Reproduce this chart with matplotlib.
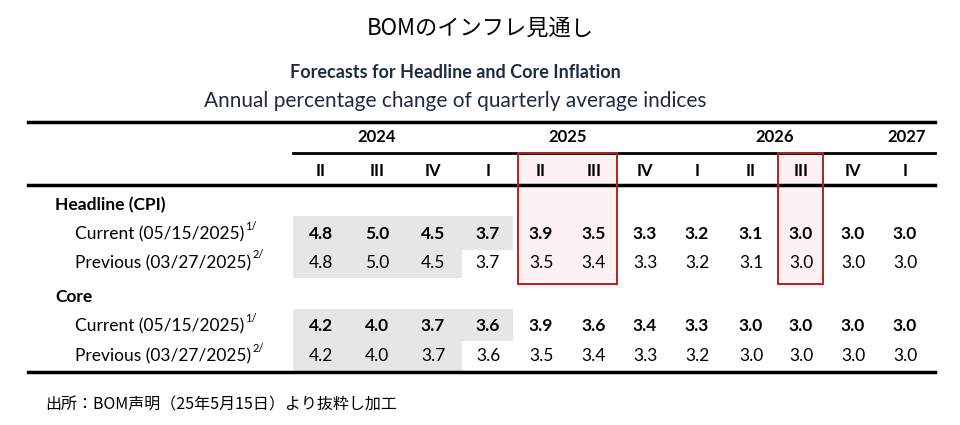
import matplotlib
matplotlib.use("Agg")
import matplotlib.pyplot as plt
from matplotlib.patches import Rectangle

years = ["2024", "2025", "2026", "2027"]
year_x = [377, 568, 775, 907]
quarters = ["II", "III", "IV", "I", "II", "III", "IV", "I", "II", "III", "IV", "I"]
col_x = [321, 377, 433, 488, 541, 594, 645, 697, 751, 801, 853, 905]
headline_current = [4.8, 5.0, 4.5, 3.7, 3.9, 3.5, 3.3, 3.2, 3.1, 3.0, 3.0, 3.0]
headline_previous = [4.8, 5.0, 4.5, 3.7, 3.5, 3.4, 3.3, 3.2, 3.1, 3.0, 3.0, 3.0]
core_current = [4.2, 4.0, 3.7, 3.6, 3.9, 3.6, 3.4, 3.3, 3.0, 3.0, 3.0, 3.0]
core_previous = [4.2, 4.0, 3.7, 3.6, 3.5, 3.4, 3.3, 3.2, 3.0, 3.0, 3.0, 3.0]

F = "Lato"
fig = plt.figure(figsize=(9.6, 4.25), dpi=100)
ax = fig.add_axes([0, 0, 1, 1])
ax.set_xlim(0, 960); ax.set_ylim(425, 0); ax.axis("off")

ax.text(480, 28, "BOMのインフレ見通し", ha="center", va="center", fontsize=16, family="Noto Sans CJK JP")
ax.text(455, 72, "Forecasts for Headline and Core Inflation", ha="center", va="center", fontsize=13, weight="bold", family=F, color="#1f2a44")
ax.text(455, 101, "Annual percentage change of quarterly average indices", ha="center", va="center", fontsize=15, family=F, color="#1f2a44")

ax.add_patch(Rectangle((293, 216), 220, 34, color="#e6e6e6", lw=0))
ax.add_patch(Rectangle((293, 250), 169, 28, color="#e6e6e6", lw=0))
ax.add_patch(Rectangle((293, 309), 220, 32, color="#e6e6e6", lw=0))
ax.add_patch(Rectangle((293, 341), 169, 30, color="#e6e6e6", lw=0))
for x0, w in [(518, 99), (778, 45)]:
    ax.add_patch(Rectangle((x0, 153), w, 131, facecolor="#fdf1f1", edgecolor="none", zorder=0.5))
    ax.add_patch(Rectangle((x0, 153), w, 131, facecolor="none", edgecolor="#b22222", lw=1.4, zorder=5))

ax.plot([28, 935], [122, 122], color="black", lw=2.5)
ax.plot([293, 935], [153, 153], color="black", lw=2)
ax.plot([28, 935], [185, 185], color="black", lw=2.5)
ax.plot([28, 935], [372, 372], color="black", lw=2.5)

for y, x in zip(years, year_x):
    ax.text(x, 137, y, ha="center", va="center", fontsize=12, weight="bold", family=F)
for q, x in zip(quarters, col_x):
    ax.text(x, 171, q, ha="center", va="center", fontsize=12, weight="bold", family=F)

ax.text(55, 205, "Headline (CPI)", va="center", fontsize=12.5, weight="bold", family=F)
ax.text(55, 297, "Core", va="center", fontsize=12.5, weight="bold", family=F)

rows = [(234, "Current (05/15/2025)", "1/", headline_current, True),
        (263, "Previous (03/27/2025)", "2/", headline_previous, False),
        (326, "Current (05/15/2025)", "1/", core_current, True),
        (356, "Previous (03/27/2025)", "2/", core_previous, False)]
fig.canvas.draw()
r = fig.canvas.get_renderer()
for y, lab, sup, vals, bold in rows:
    t = ax.text(75, y, lab, va="center", fontsize=12.5, family=F)
    bb = t.get_window_extent(r)
    ax.text(bb.x1 + 1, y - 8, sup, va="center", fontsize=8, family=F)
    for v, x in zip(vals, col_x):
        ax.text(x, y, f"{v:.1f}", ha="center", va="center", fontsize=12.5,
                weight="bold" if bold else "normal", family=F)

ax.text(45, 405, "出所：BOM声明（25年5月15日）より抜粋し加工", va="center", fontsize=11.5, family="Noto Sans CJK JP")
fig.savefig("out.png", dpi=100)
